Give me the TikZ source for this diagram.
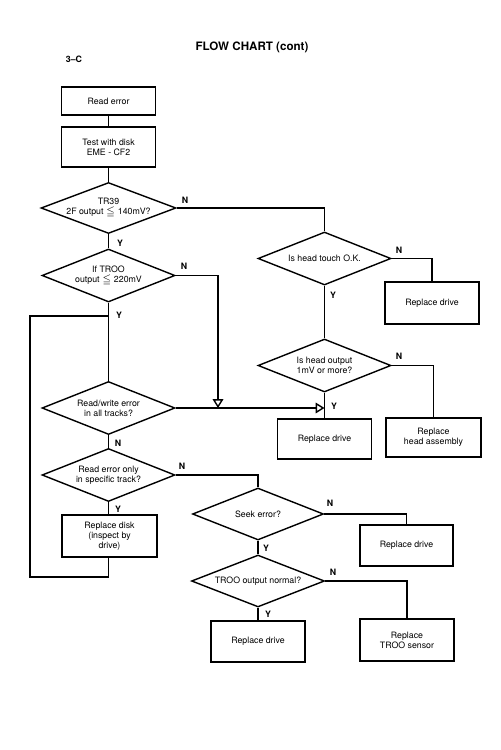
\documentclass[tikz,border=0pt]{standalone}
\usepackage{amssymb}
\usepackage{fontspec}
\setmainfont{TeX Gyre Heros}
\usetikzlibrary{shapes.geometric,arrows.meta}
\begin{document}
\begin{tikzpicture}[x=0.02cm,y=-0.02cm,
  every node/.style={font=\fontsize{5}{5.6}\selectfont, align=center},
  box/.style={draw, line width=0.8pt, rectangle, inner sep=0pt, minimum width=1.88cm, minimum height=0.8cm},
  dia/.style={draw, line width=0.8pt, diamond, inner sep=0pt, minimum width=2.66cm, minimum height=1.06cm},
  conn/.style={line width=0.8pt},
  openarr/.style={line width=0.8pt, -{Triangle[open, length=5pt, width=6pt]}},
  lab/.style={font=\fontsize{5}{6}\selectfont\bfseries, inner sep=0pt}
]
\useasboundingbox[fill=white] (0,0) rectangle (500,750);

% titles
\node[font=\fontsize{6.6}{8}\selectfont\bfseries] (title) at (252,47) {FLOW CHART (cont)};
\node[font=\fontsize{5}{6}\selectfont\bfseries] (sec) at (74,59) {3--C};

% left column
\node[box, minimum height=0.56cm] (b1) at (108.5,101) {Read error};
\node[box] (b2) at (108.5,147) {Test with disk\\EME - CF2};
\node[dia, minimum width=2.7cm, minimum height=1.02cm] (d1) at (108.5,208) {};
\node at (d1) {TR39\\2F output $\leqq$ 140mV?};
\node[dia] (d2) at (108.5,275.5) {};
\node at (d2) {If TROO\\output $\leqq$ 220mV};
\node[dia] (d3) at (108.5,408) {};
\node at (d3) {Read/write error\\in all tracks?};
\node[dia] (d4) at (108.5,475) {};
\node at (d4) {Read error only\\in specific track?};
\node[box, minimum width=1.9cm, minimum height=0.84cm] (bd) at (109.5,536) {Replace disk\\(inspect by\\drive)};

% right column upper
\node[dia] (dt) at (324.5,258.5) {};
\node at (dt) {Is head touch O.K.};
\node[box, minimum height=0.84cm] (rd1) at (432,303) {Replace drive};
\node[dia] (ho) at (324.5,365.5) {};
\node at (ho) {Is head output\\1mV or more?};
\node[box, minimum height=0.8cm] (rd2) at (324.5,439) {Replace drive};
\node[box, minimum width=1.9cm, minimum height=0.78cm] (rha) at (433.5,437.5) {Replace\\head assembly};

% lower middle
\node[dia, minimum width=2.62cm, minimum height=1.04cm] (se) at (258,514) {};
\node at (se) {Seek error?};
\node[box, minimum width=1.86cm, minimum height=0.82cm] (rd3) at (406.5,545.5) {Replace drive};
\node[dia, minimum width=2.66cm, minimum height=1.04cm] (tn) at (258,581) {};
\node at (tn) {TROO output normal?};
\node[box, minimum height=0.82cm] (rd4) at (258,641.5) {Replace drive};
\node[box, minimum height=0.84cm] (rts) at (407,640) {Replace\\TROO sensor};

% helper coordinates
\coordinate (j1) at (218,408);
\coordinate (lp1) at (30,577);
\coordinate (lp2) at (30,316);
\coordinate (lp3) at (108.5,316);

% connectors
\draw[conn] (b1.south) -- (b2.north);
\draw[conn] (b2.south) -- (d1.north);
\draw[conn] (d1.south) -- (d2.north);
\draw[conn] (d1.east) -| (dt.north);
\draw[conn] (dt.east) -| (rd1.north);
\draw[conn] (dt.south) -- (ho.north);
\draw[conn] (ho.east) -| (rha.north);
\draw[conn] (ho.south) -- (rd2.north);
\draw[openarr] (d2.east) -| (j1);
\draw[conn] (d2.south) -- (d3.north);
\draw[openarr] (d3.east) -- (d3.east -| rd2.north);
\draw[conn] (d3.south) -- (d4.north);
\draw[conn] (d4.east) -| (se.north);
\draw[conn] (d4.south) -- (bd.north -| d4.south);
\draw[conn] (bd.south -| d4.south) |- (lp1) -- (lp2) -- (lp3);
\draw[conn] (se.east) -| (rd3.north);
\draw[conn] (se.south) -- (tn.north);
\draw[conn] (tn.east) -| (rts.north);
\draw[conn] (tn.south) -- (rd4.north);

% Y / N labels
\node[lab] (l1) at (185,200) {N};
\node[lab] (l2) at (120,243) {Y};
\node[lab] (l3) at (184,266) {N};
\node[lab] (l4) at (119,315) {Y};
\node[lab] (l5) at (118,443) {N};
\node[lab] (l6) at (182,466) {N};
\node[lab] (l7) at (118,509) {Y};
\node[lab] (l8) at (399,250) {N};
\node[lab] (l9) at (333,295) {Y};
\node[lab] (l10) at (399,356) {N};
\node[lab] (l11) at (334,406) {Y};
\node[lab] (l12) at (330,503) {N};
\node[lab] (l13) at (266,548) {Y};
\node[lab] (l14) at (333,572) {N};
\node[lab] (l15) at (268,614) {Y};
\end{tikzpicture}
\end{document}
